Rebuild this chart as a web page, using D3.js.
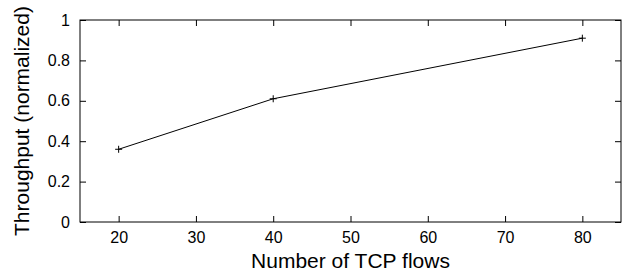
<!DOCTYPE html>
<html>
<head>
<meta charset="utf-8">
<script src="https://cdn.jsdelivr.net/npm/d3@7"></script>
<style>
  body { margin: 0; background: #fff; }
  svg text { font-family: "Liberation Sans", Arial, sans-serif; fill: #000; }
</style>
</head>
<body>
<div id="chart"></div>
<script>
// data
const flows = [20, 40, 80];
const throughput = [0.36, 0.61, 0.91];
const xTicks = [20, 30, 40, 50, 60, 70, 80];
const yTicks = [0, 0.2, 0.4, 0.6, 0.8, 1];

const W = 626, H = 276;
const margin = { top: 20, right: 5, bottom: 54, left: 80 };
const width = W - margin.left - margin.right;
const height = H - margin.top - margin.bottom;

const svg = d3.select('#chart').append('svg')
  .attr('width', W)
  .attr('height', H);

const g = svg.append('g')
  .attr('transform', 'translate(' + margin.left + ',' + margin.top + ')');

const x = d3.scaleLinear().domain([15, 85]).range([0, width]);
const y = d3.scaleLinear().domain([0, 1]).range([height, 0]);

// axes, ticks pointing inward (gnuplot style), mirrored on top / right
const fmtY = d => d === 0 || d === 1 ? String(d) : d.toFixed(1);

g.append('g')
  .attr('transform', 'translate(0,' + height + ')')
  .call(d3.axisBottom(x).tickValues(xTicks).tickSize(-6).tickPadding(10))
  .call(a => a.select('.domain').remove())
  .selectAll('text').style('font-size', '16px');

g.append('g')
  .call(d3.axisLeft(y).tickValues(yTicks).tickFormat(fmtY).tickSize(-6).tickPadding(10))
  .call(a => a.select('.domain').remove())
  .selectAll('text').style('font-size', '16px');

g.append('g')
  .call(d3.axisTop(x).tickValues(xTicks).tickSize(-6).tickFormat(''))
  .call(a => a.select('.domain').remove());

g.append('g')
  .attr('transform', 'translate(' + width + ',0)')
  .call(d3.axisRight(y).tickValues(yTicks).tickSize(-6).tickFormat(''))
  .call(a => a.select('.domain').remove());

g.selectAll('.tick line').attr('stroke', '#000');
g.selectAll('.tick text').attr('fill', '#000');

// frame
g.append('rect')
  .attr('x', 0).attr('y', 0)
  .attr('width', width).attr('height', height)
  .attr('fill', 'none')
  .attr('stroke', '#000')
  .attr('stroke-width', 1);

// axis titles
svg.append('text')
  .attr('x', margin.left + width / 2)
  .attr('y', 268)
  .attr('text-anchor', 'middle')
  .style('font-size', '21px')
  .text('Number of TCP flows');

svg.append('text')
  .attr('transform', 'translate(29,' + (margin.top + height / 2) + ') rotate(-90)')
  .attr('text-anchor', 'middle')
  .style('font-size', '21px')
  .text('Throughput (normalized)');

// series
const data = flows.map((f, i) => ({ f: f, t: throughput[i] }));
const line = d3.line()
  .x(d => x(d.f))
  .y(d => y(d.t));

g.append('path')
  .datum(data)
  .attr('d', line)
  .attr('fill', 'none')
  .attr('stroke', '#000')
  .attr('stroke-width', 1);

g.selectAll('.pt')
  .data(data)
  .enter().append('path')
  .attr('class', 'pt')
  .attr('transform', d => 'translate(' + x(d.f) + ',' + y(d.t) + ')')
  .attr('d', 'M-3.5,0H3.5M0,-3.5V3.5')
  .attr('stroke', '#000')
  .attr('stroke-width', 1)
  .attr('fill', 'none');
</script>
</body>
</html>
